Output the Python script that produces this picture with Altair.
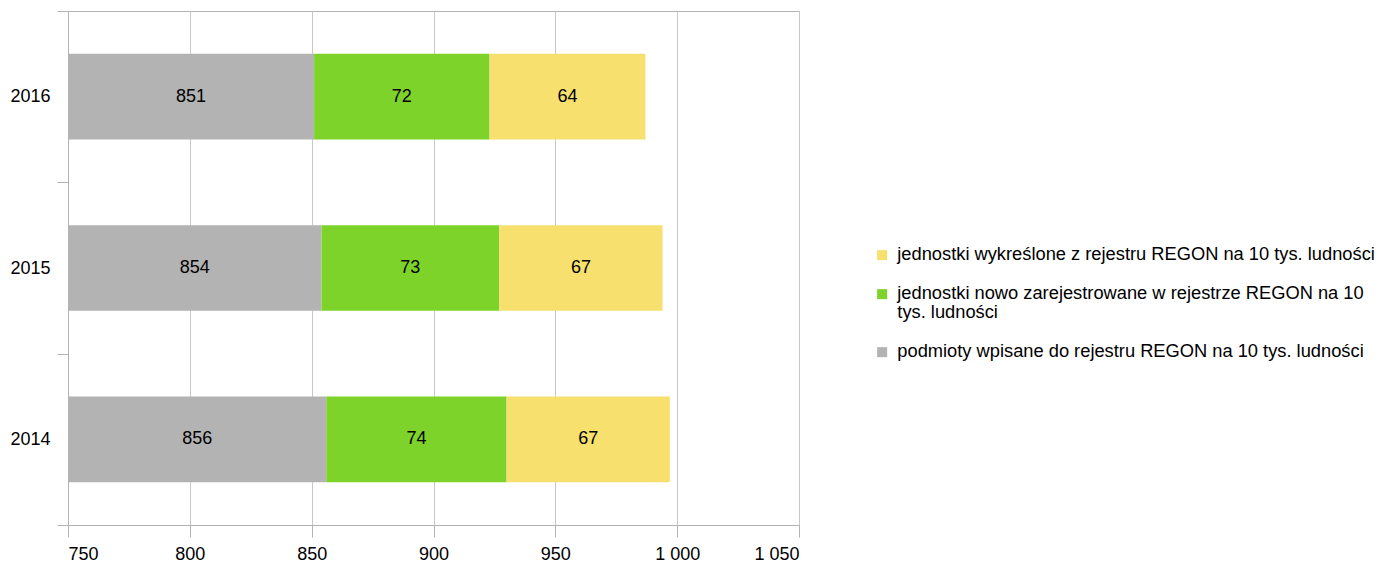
import altair as alt
import pandas as pd

years = ["2016", "2015", "2014"]
registered = [851, 854, 856]
new_units = [72, 73, 74]
removed = [64, 67, 67]

series = [
    "podmioty wpisane do rejestru REGON na 10 tys. ludności",
    "jednostki nowo zarejestrowane w rejestrze REGON na 10|tys. ludności",
    "jednostki wykreślone z rejestru REGON na 10 tys. ludności",
]
colors = ["#b3b3b3", "#7ed32b", "#f7e06e"]
x_ticks = [750, 800, 850, 900, 950, 1000, 1050]
x_min, x_max = 750, 1050

rows = []
for i, y in enumerate(years):
    for k, vals in enumerate([registered, new_units, removed]):
        rows.append({"year": y, "series": series[k], "order": k, "value": vals[i]})
df = pd.DataFrame(rows)

FONT = "Liberation Sans"
GRID = "#c8c8c8"
LINE = "#b3b3b3"
FS = 18

base = alt.Chart(df).transform_stack(
    stack="value", groupby=["year"], as_=["start", "end"],
    sort=[alt.SortField("order", order="ascending")],
).transform_calculate(
    vstart=f"max(datum.start, {x_min})",
    mid=f"(max(datum.start, {x_min}) + datum.end) / 2",
)

y_scale = alt.Scale(paddingInner=0, paddingOuter=0)
y_enc = alt.Y(
    "year:N", sort=years, scale=y_scale,
    axis=alt.Axis(title=None, tickBand="extent", tickSize=11, tickColor=LINE,
                  domainColor=LINE, labelFontSize=FS, labelFont=FONT,
                  labelColor="#000000", labelPadding=7, grid=False),
)

x_scale = alt.Scale(domain=[x_min, x_max], nice=False, zero=False)

bars = base.mark_bar(height={"band": 0.5}).encode(
    y=y_enc,
    x=alt.X("vstart:Q", scale=x_scale,
            axis=alt.Axis(title=None, values=x_ticks, tickSize=12, tickColor=LINE,
                          domainColor=LINE, gridColor=GRID, grid=True,
                          labelFontSize=FS, labelFont=FONT, labelColor="#000000",
                          labelPadding=8,
                          labelExpr="replace(format(datum.value, ','), ',', ' ')")),
    x2="end:Q",
    color=alt.Color(
        "series:N",
        scale=alt.Scale(domain=series[::-1], range=colors[::-1]),
        legend=alt.Legend(
            title=None, orient="none", legendX=805, legendY=235,
            symbolType="square", symbolSize=100, symbolStrokeWidth=0,
            labelFontSize=18.3, labelFont=FONT, labelColor="#000000",
            labelLimit=700, rowPadding=20, labelOffset=6, padding=0,
            labelExpr="split(datum.label, '|')",
        ),
    ),
    order=alt.Order("order:Q"),
)

labels = base.mark_text(fontSize=FS, font=FONT, color="#000000").encode(
    y=alt.Y("year:N", sort=years, scale=y_scale),
    x=alt.X("mid:Q", scale=x_scale),
    text="value:Q",
)

chart = (bars + labels).properties(
    width=731, height=514,
    autosize=alt.AutoSizeParams(type="none"),
    padding={"left": 60, "top": 3, "right": 580, "bottom": 40},
).configure(
    style={"guide-label": {"lineHeight": 19}}
).configure_view(stroke=LINE, strokeWidth=1)

chart.save("out.html", embed_options={"renderer": "svg", "actions": False})
